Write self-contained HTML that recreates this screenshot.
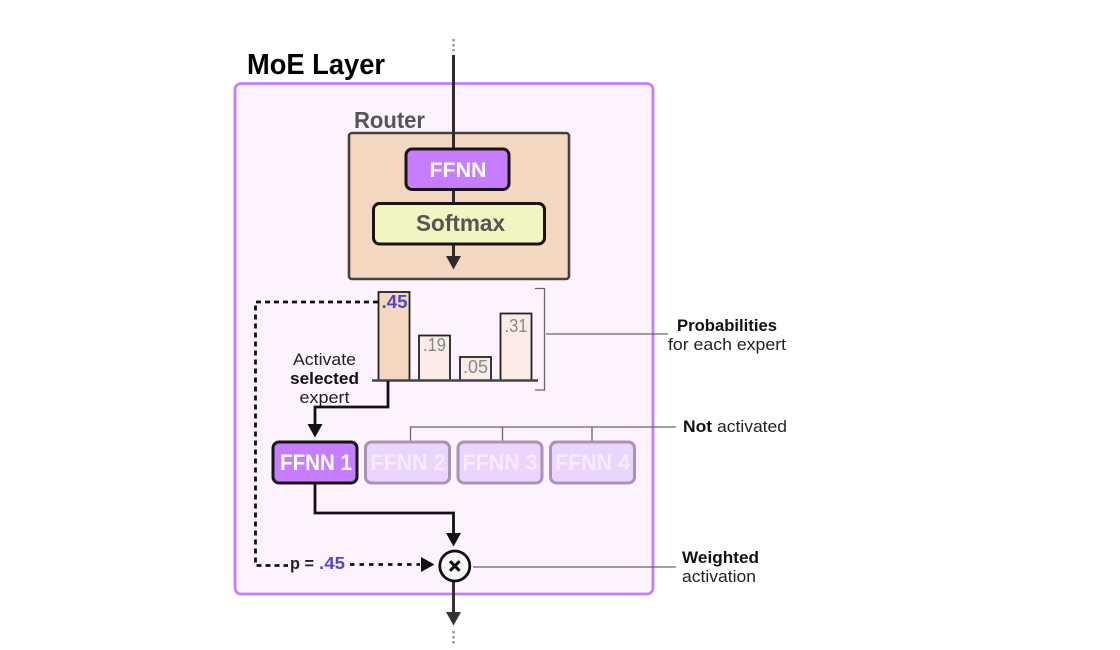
<!DOCTYPE html>
<html><head><meta charset="utf-8">
<style>
html,body{margin:0;padding:0;background:#fff;width:1120px;height:650px;overflow:hidden}
svg{display:block}
text{font-family:"Liberation Sans",sans-serif}
.b{font-weight:700}
</style></head><body>
<svg width="1120" height="650" viewBox="0 0 1120 650" xmlns="http://www.w3.org/2000/svg">
<rect width="1120" height="650" fill="#fff"/>
<!-- outer -->
<rect x="235" y="83.500" width="418" height="510.500" rx="6" fill="#fdf3ff" stroke="#c77dff" stroke-width="2.800"/>
<text class="b" x="247" y="74" font-size="29" fill="#000" textLength="138" lengthAdjust="spacingAndGlyphs">MoE Layer</text>
<line x1="453.500" y1="39" x2="453.500" y2="54" stroke="#999" stroke-width="2.500" stroke-dasharray="2.500 2.500"/>
<!-- router -->
<text class="b" x="354" y="128" font-size="23" fill="#555" textLength="71" lengthAdjust="spacingAndGlyphs">Router</text>
<rect x="349" y="133" width="220" height="146" rx="3" fill="#f3d7c0" stroke="#4a403a" stroke-width="2.600"/>
<line x1="453.500" y1="55" x2="453.500" y2="258" stroke="#2f2b2a" stroke-width="3"/>
<polygon points="446,256 461,256 453.500,269.500" fill="#2f2b2a"/>
<rect x="406" y="149" width="103" height="40.500" rx="6" fill="#c77dff" stroke="#1a1416" stroke-width="3"/>
<text class="b" x="458" y="177" font-size="21.500" fill="#fff" text-anchor="middle" textLength="57" lengthAdjust="spacingAndGlyphs">FFNN</text>
<rect x="373.500" y="203.500" width="171" height="40.500" rx="6" fill="#f2f5c2" stroke="#1a1416" stroke-width="3"/>
<text class="b" x="460.500" y="231" font-size="23" fill="#555" text-anchor="middle" textLength="89" lengthAdjust="spacingAndGlyphs">Softmax</text>
<!-- bars -->
<rect x="378.500" y="292" width="31" height="88.500" fill="#f3d7c0" stroke="#222" stroke-width="1.800"/>
<rect x="419" y="335.500" width="31" height="45" fill="#fbebe6" stroke="#222" stroke-width="1.800"/>
<rect x="460" y="357" width="31" height="23.500" fill="#fbebe6" stroke="#222" stroke-width="1.800"/>
<rect x="500.500" y="313.500" width="31" height="67" fill="#fbebe6" stroke="#222" stroke-width="1.800"/>
<line x1="372" y1="380.500" x2="538" y2="380.500" stroke="#444" stroke-width="2.600"/>
<text class="b" x="394.500" y="308" font-size="18.500" fill="#4f46c8" text-anchor="middle" textLength="26" lengthAdjust="spacingAndGlyphs">.45</text>
<text x="434.500" y="351" font-size="18" fill="#888" text-anchor="middle" textLength="23" lengthAdjust="spacingAndGlyphs">.19</text>
<text x="475.500" y="373" font-size="18" fill="#888" text-anchor="middle" textLength="25" lengthAdjust="spacingAndGlyphs">.05</text>
<text x="516" y="332" font-size="18" fill="#888" text-anchor="middle" textLength="23" lengthAdjust="spacingAndGlyphs">.31</text>
<!-- bracket -->
<polyline points="535,288.500 544.500,288.500 544.500,390 535,390" fill="none" stroke="#666" stroke-width="1.300"/>
<line x1="546" y1="334" x2="668" y2="334" stroke="#666" stroke-width="1.300"/>
<text class="b" x="727" y="331" font-size="16.500" fill="#111" text-anchor="middle" textLength="100" lengthAdjust="spacingAndGlyphs">Probabilities</text>
<text x="727" y="350" font-size="16.500" fill="#222" text-anchor="middle" textLength="118" lengthAdjust="spacingAndGlyphs">for each expert</text>
<!-- activate -->
<text x="324.500" y="365" font-size="16.500" fill="#222" text-anchor="middle" textLength="63" lengthAdjust="spacingAndGlyphs">Activate</text>
<text class="b" x="324.500" y="384" font-size="16.500" fill="#111" text-anchor="middle" textLength="69" lengthAdjust="spacingAndGlyphs">selected</text>
<text x="324.500" y="403" font-size="16.500" fill="#222" text-anchor="middle" textLength="50" lengthAdjust="spacingAndGlyphs">expert</text>
<polyline points="388,381 388,407 315,407 315,426" fill="none" stroke="#111" stroke-width="2.800"/>
<polygon points="307.500,424 322.500,424 315,437.500" fill="#111"/>
<!-- dashed -->
<polyline points="378,302 255.500,302 255.500,565.500 288,565.500" fill="none" stroke="#111" stroke-width="2.800" stroke-dasharray="5 4"/>
<line x1="350" y1="564.500" x2="420" y2="564.500" stroke="#111" stroke-width="2.800" stroke-dasharray="4.500 5"/>
<polygon points="421,557 421,572 434.500,564.500" fill="#111"/>
<text class="b" x="290" y="569" font-size="17" fill="#222" textLength="24" lengthAdjust="spacingAndGlyphs">p =</text>
<text class="b" x="319" y="569" font-size="17.500" fill="#4f46c8" textLength="26" lengthAdjust="spacingAndGlyphs">.45</text>
<!-- not activated -->
<polyline points="410.500,442 410.500,427 676,427" fill="none" stroke="#666" stroke-width="1.300"/>
<line x1="502.500" y1="427" x2="502.500" y2="442" stroke="#666" stroke-width="1.300"/>
<line x1="592" y1="427" x2="592" y2="442" stroke="#666" stroke-width="1.300"/>
<text x="683" y="432" font-size="16.500" fill="#222" textLength="104" lengthAdjust="spacingAndGlyphs"><tspan class="b" fill="#111">Not</tspan> activated</text>
<!-- experts -->
<polyline points="315,483 315,513 453.500,513 453.500,535" fill="none" stroke="#111" stroke-width="2.800"/>
<polygon points="446,533 461,533 453.500,546.500" fill="#111"/>
<rect x="273" y="442" width="84" height="41" rx="6" fill="#c77dff" stroke="#1a1416" stroke-width="3"/>
<text class="b" x="316" y="470" font-size="22" fill="#fff" text-anchor="middle" textLength="72" lengthAdjust="spacingAndGlyphs">FFNN 1</text>
<rect x="365.500" y="442" width="84" height="41" rx="6" fill="#ebd4fd" stroke="#ab94b3" stroke-width="3"/>
<text class="b" x="408" y="470" font-size="22" fill="#f6ebff" text-anchor="middle" textLength="75" lengthAdjust="spacingAndGlyphs">FFNN 2</text>
<rect x="458" y="442" width="84" height="41" rx="6" fill="#ebd4fd" stroke="#ab94b3" stroke-width="3"/>
<text class="b" x="500" y="470" font-size="22" fill="#f6ebff" text-anchor="middle" textLength="75" lengthAdjust="spacingAndGlyphs">FFNN 3</text>
<rect x="550.500" y="442" width="84" height="41" rx="6" fill="#ebd4fd" stroke="#ab94b3" stroke-width="3"/>
<text class="b" x="592.500" y="470" font-size="22" fill="#f6ebff" text-anchor="middle" textLength="75" lengthAdjust="spacingAndGlyphs">FFNN 4</text>
<!-- multiply -->
<line x1="473" y1="567" x2="676" y2="567" stroke="#666" stroke-width="1.300"/>
<line x1="453.500" y1="581" x2="453.500" y2="614" stroke="#333" stroke-width="3"/>
<polygon points="446,612 461,612 453.500,625.500" fill="#333"/>
<circle cx="454.800" cy="566" r="15" fill="#f7f7f5" stroke="#111" stroke-width="2.800"/>
<path d="M450,561.200 L459.600,570.800 M459.600,561.200 L450,570.800" stroke="#111" stroke-width="3" fill="none"/>
<line x1="453.500" y1="631" x2="453.500" y2="645" stroke="#999" stroke-width="2.500" stroke-dasharray="2.500 2.500"/>
<text class="b" x="682" y="563" font-size="16.500" fill="#111" textLength="77" lengthAdjust="spacingAndGlyphs">Weighted</text>
<text x="682" y="582" font-size="16.500" fill="#222" textLength="74" lengthAdjust="spacingAndGlyphs">activation</text>
</svg>
</body></html>
